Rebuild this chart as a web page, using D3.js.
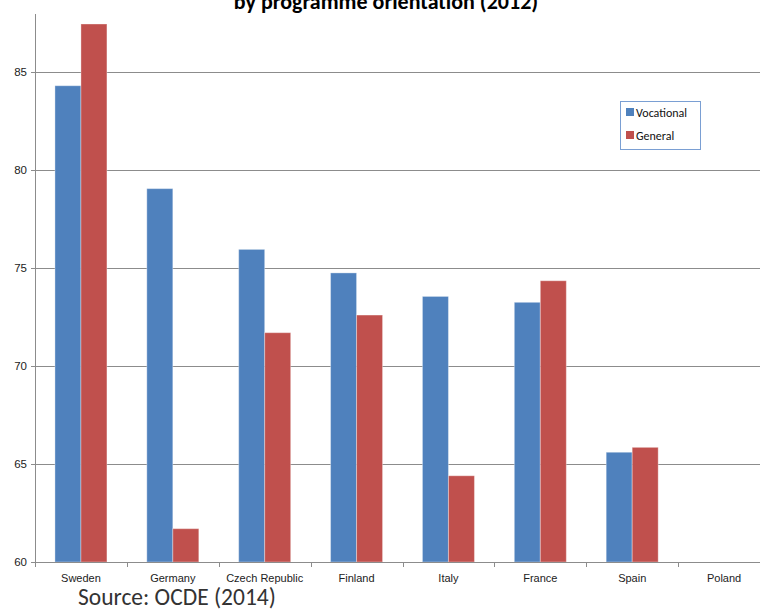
<!DOCTYPE html>
<html>
<head>
<meta charset="utf-8">
<script src="https://cdn.jsdelivr.net/npm/d3@7"></script>
<style>
	body{margin:0;background:#fff;}
	svg{display:block;font-family:Carlito,"Open Sans","Noto Sans",sans-serif;}
	.tick text{fill:#222;}
</style>
</head>
<body>
<div id="chart"></div>
<script>
// data
var countries=["Sweden","Germany","Czech Republic","Finland","Italy","France","Spain","Poland"];
var vocational=[84.3,79.05,75.95,74.75,73.55,73.25,65.6,null];
var general=[87.45,61.7,71.7,72.6,64.4,74.35,65.85,null];
var seriesNames=["Vocational","General"];
var yTicks=[60,65,70,75,80,85];

var W=760, H=611;
var mLeft=35, mRight=770, mTop=14, mBottom=562;
var colors=["#4f81bd","#c0504d"];
var axisColor="#8c8c8c";

var svg=d3.select("#chart").append("svg")
	.attr("width",W).attr("height",H);

var x=d3.scaleBand().domain(countries).range([mLeft,mRight]);
var y=d3.scaleLinear().domain([60,87.96]).range([mBottom,mTop]);
var barW=26;

// grid lines
svg.append("g").selectAll("line").data(yTicks.slice(1)).enter().append("line")
	.attr("x1",mLeft).attr("x2",mRight)
	.attr("y1",function(d){return Math.round(y(d))+0.5;}).attr("y2",function(d){return Math.round(y(d))+0.5;})
	.attr("stroke",axisColor).attr("stroke-width",1);

// bars
var bars=[];
countries.forEach(function(c,i){
	[vocational[i],general[i]].forEach(function(v,s){
		if(v!=null){bars.push({c:c,s:s,v:v});}
	});
});
svg.append("g").selectAll("rect").data(bars).enter().append("rect")
	.attr("x",function(d){return x(d.c)+x.bandwidth()/2-barW+d.s*barW;})
	.attr("y",function(d){return y(d.v);})
	.attr("width",barW)
	.attr("height",function(d){return y(60)-y(d.v);})
	.attr("fill",function(d){return colors[d.s];})
	.attr("stroke","#fff").attr("stroke-opacity",0.35).attr("stroke-width",1);

// y axis
var yAxis=svg.append("g").attr("transform","translate("+mLeft+",0)")
	.call(d3.axisLeft(y).tickValues(yTicks).tickSize(4).tickPadding(4).tickFormat(d3.format("d")));
yAxis.select(".domain").attr("d","M0.5,"+mTop+"V"+mBottom).attr("stroke",axisColor);
yAxis.selectAll(".tick line").attr("stroke",axisColor);
yAxis.selectAll(".tick text").attr("font-size",11.5).attr("font-family","inherit");

// x axis
var xAxis=svg.append("g").attr("transform","translate(0,"+mBottom+")")
	.call(d3.axisBottom(x).tickSize(0).tickPadding(12));
xAxis.select(".domain").attr("stroke",axisColor);
xAxis.selectAll(".tick text").attr("font-size",11).attr("font-family","inherit");
svg.append("g").selectAll("line").data(countries).enter().append("line")
	.attr("x1",function(d){return Math.round(x(d))+0.5;}).attr("x2",function(d){return Math.round(x(d))+0.5;})
	.attr("y1",mBottom).attr("y2",mBottom+5)
	.attr("stroke",axisColor);

// title (cut off at top, as in the original)
svg.append("text").attr("x",386).attr("y",9)
	.attr("text-anchor","middle").attr("font-weight","bold").attr("font-size",22)
	.attr("fill","#000")
	.text("by programme orientation (2012)");

// legend
var lg=svg.append("g").attr("transform","translate(620,101)");
lg.append("rect").attr("x",0.5).attr("y",0.5).attr("width",80).attr("height",48)
	.attr("fill","#fff").attr("stroke","#7a9fd3");
lg.selectAll("g").data(seriesNames).enter().append("g")
	.attr("transform",function(d,i){return "translate(6,"+(7+i*23)+")";})
	.each(function(d,i){
		var g=d3.select(this);
		g.append("rect").attr("width",8).attr("height",8).attr("fill",colors[i]);
		g.append("text").attr("x",10).attr("y",8.5).attr("font-size",12).attr("fill","#111").text(d);
	});

// source
svg.append("text").attr("x",78).attr("y",605)
	.attr("font-size",23.5).attr("fill","#333")
	.text("Source: OCDE (2014)");
</script>
</body>
</html>
